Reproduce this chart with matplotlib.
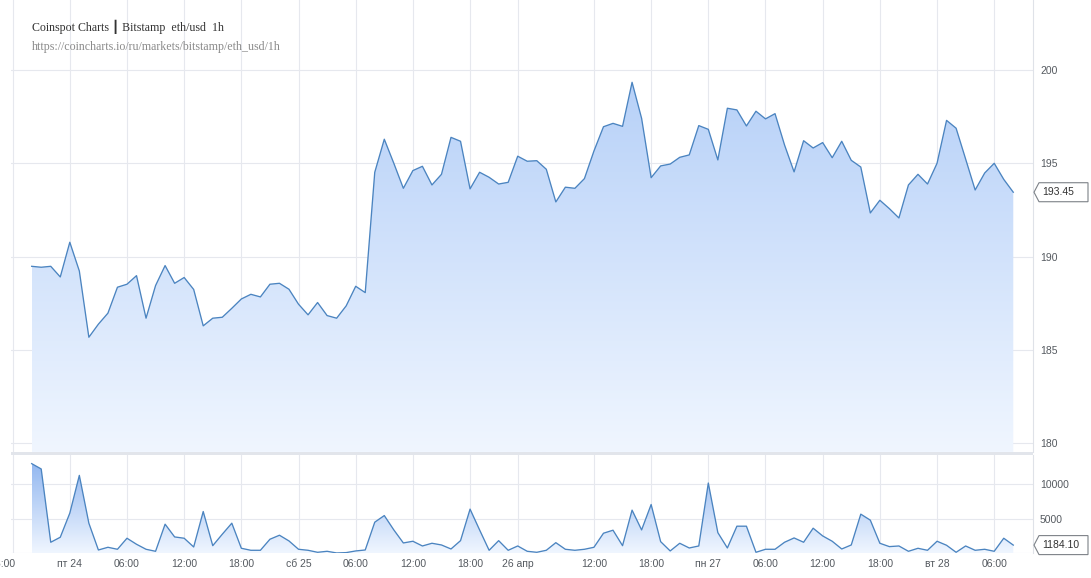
import numpy as np
import matplotlib
matplotlib.use("Agg")
import matplotlib.pyplot as plt
from matplotlib.colors import LinearSegmentedColormap
from matplotlib.patches import Polygon, Rectangle
from matplotlib.transforms import IdentityTransform, ScaledTranslation

# ---------------- data ----------------
price = [189.48, 189.43, 189.48, 188.91, 190.77, 189.23, 185.68, 186.38, 186.97, 188.36,
         188.52, 188.98, 186.70, 188.45, 189.52, 188.57, 188.88, 188.24, 186.29, 186.70,
         186.75, 187.23, 187.73, 187.98, 187.84, 188.52, 188.57, 188.25, 187.45, 186.88,
         187.54, 186.84, 186.70, 187.36, 188.41, 188.07, 194.52, 196.29, 195.00, 193.66,
         194.61, 194.84, 193.84, 194.41, 196.39, 196.18, 193.63, 194.52, 194.25, 193.89,
         193.98, 195.38, 195.11, 195.14, 194.68, 192.93, 193.72, 193.66, 194.18, 195.66,
         196.96, 197.14, 196.98, 199.34, 197.41, 194.23, 194.86, 194.96, 195.32, 195.45,
         197.02, 196.82, 195.18, 197.95, 197.86, 197.00, 197.79, 197.38, 197.66, 195.98,
         194.54, 196.21, 195.82, 196.11, 195.30, 196.18, 195.16, 194.80, 192.34, 193.02,
         192.57, 192.07, 193.84, 194.41, 193.89, 195.00, 197.30, 196.88, 195.23, 193.57,
         194.48, 195.00, 194.14, 193.45]

volume = [12940, 12170, 1594, 2318, 5796, 11245, 4347, 478, 869, 580,
          2174, 1304, 580, 290, 4202, 2362, 2174, 913, 6028, 1101,
          2753, 4347, 724, 435, 435, 2029, 2608, 1782, 580, 435,
          145, 290, 50, 100, 340, 478, 4492, 5448, 3376, 1492,
          1739, 1058, 1449, 1203, 623, 1826, 6376, 3376, 435, 1826,
          435, 1058, 290, 145, 435, 1536, 580, 435, 580, 869,
          2898, 3333, 1101, 6231, 3376, 7042, 1681, 340, 1449, 768,
          1058, 10143, 2985, 768, 3912, 3912, 145, 580, 580, 1594,
          2217, 1594, 3622, 2507, 1739, 623, 1203, 5651, 4782, 1449,
          965, 1058, 290, 724, 435, 1739, 1159, 145, 1058, 435,
          580, 290, 2174, 1184.10]

tick_pos = [-2, 4, 10, 16, 22, 28, 34, 40, 46, 51, 59, 65, 71, 77, 83, 89, 95, 101]
tick_labels = ["18:00", "пт 24", "06:00", "12:00", "18:00", "сб 25", "06:00", "12:00",
               "18:00", "26 апр", "12:00", "18:00", "пн 27", "06:00", "12:00", "18:00",
               "вт 28", "06:00"]
price_ticks = [180, 185, 190, 195, 200]
volume_ticks = [0, 5000, 10000]
volume_tick_labels = ["", "5000", "10000"]

title = "Coinspot Charts \u2503 Bitstamp  eth/usd  1h"
subtitle = "https://coincharts.io/ru/markets/bitstamp/eth_usd/1h"
last_price_label = "193.45"
last_volume_label = "1184.10"

# ---------------- styling ----------------
W, H = 1091, 578
LINE = "#4b84c0"
GRID = "#e6e8ee"
TXT = "#555a60"
SANS = ["Liberation Sans", "DejaVu Sans"]

fig = plt.figure(figsize=(W / 100, H / 100), dpi=100)
fig.patch.set_facecolor("white")


def px_axes(l, t, r, b):
    return fig.add_axes([l / W, 1 - b / H, (r - l) / W, (b - t) / H])


ax = px_axes(11, 0, 1033, 452)
axv = px_axes(11, 455, 1033, 553.3)

x = np.arange(len(price))
XL = (-2.17, 105.07)


def gradient_fill(a, xs, ys, ybase, ytop, c_bot, c_top):
    poly = a.fill_between(xs, ys, ybase, facecolor="none", edgecolor="none")
    path = poly.get_paths()[0]
    cmap = LinearSegmentedColormap.from_list("g", [c_bot, c_top])
    grad = np.linspace(0, 1, 256).reshape(-1, 1)
    im = a.imshow(grad, cmap=cmap, aspect="auto", origin="lower",
                  extent=[xs[0], xs[-1], ybase, ytop], zorder=1, interpolation="bilinear")
    im.set_clip_path(path, transform=a.transData)


# price panel
gradient_fill(ax, x, np.array(price), 179.53, 199.4, "#f0f6ff", "#b7d1f8")
ax.plot(x, price, color=LINE, lw=0.95, zorder=3)
ax.set_xlim(*XL)
ax.set_ylim(179.53, 203.75)

# volume panel
gradient_fill(axv, x, np.array(volume), 0, 13000, "#f0f6ff", "#92b7f0")
axv.plot(x, volume, color=LINE, lw=0.95, zorder=3)
axv.set_xlim(*XL)
axv.set_ylim(0, 14186)

for a in (ax, axv):
    a.set_xticks(tick_pos)
    a.grid(True, color=GRID, lw=0.8, zorder=0)
    a.set_axisbelow(True)
    for s in ("left", "top", "bottom"):
        a.spines[s].set_visible(False)
    a.spines["right"].set_color("#dfe2e8")
    a.spines["right"].set_linewidth(0.8)
    a.yaxis.tick_right()
    a.tick_params(axis="both", length=0, labelsize=7.5, labelcolor=TXT, pad=5)

ax.set_yticks(price_ticks)
ax.set_yticklabels([str(t) for t in price_ticks], family=SANS)
ax.tick_params(axis="x", labelbottom=False)

axv.set_yticks(volume_ticks)
axv.set_yticklabels(volume_tick_labels, family=SANS)
axv.set_xticklabels(tick_labels, family=SANS)
axv.tick_params(axis="x", pad=4)

# the first label sits partly outside the left edge in the reference (shows ":00")
first = axv.get_xticklabels()[0]
first.set_transform(first.get_transform() + ScaledTranslation(-10 / 100, 0, fig.dpi_scale_trans))

# separator band between the panels
fig.patches.append(Rectangle((11 / W, 1 - 455 / H), 1022 / W, 3 / H,
                             transform=fig.transFigure, facecolor="#e2e5eb",
                             edgecolor="none", zorder=5))

# title texts
fig.text(32 / W, 1 - 27 / H, title, family=["Liberation Serif", "DejaVu Sans"],
         fontsize=8.6, color="#333333", va="center", ha="left")
fig.text(32 / W, 1 - 47 / H, subtitle, family=["Liberation Serif", "DejaVu Sans"],
         fontsize=8.6, color="#8a8a8a", va="center", ha="left")


# last value markers
def value_box(a, value, label):
    fig.canvas.draw()
    xd, yd = a.get_yaxis_transform().transform((1, value))
    left = xd + 1
    h = 9.5
    verts = [(left, yd), (left + 5, yd + h), (left + 54, yd + h),
             (left + 54, yd - h), (left + 5, yd - h)]
    p = Polygon(verts, closed=True, facecolor="white", edgecolor="#7d8288",
                lw=0.8, transform=IdentityTransform(), zorder=10)
    fig.patches.append(p)
    fig.text((left + 8) / W, yd / H, label, family=SANS, fontsize=7.5,
             color="#333333", va="center", ha="left", zorder=11)


value_box(ax, price[-1], last_price_label)
value_box(axv, volume[-1], last_volume_label)

fig.savefig("out.png", dpi=100, facecolor="white")
